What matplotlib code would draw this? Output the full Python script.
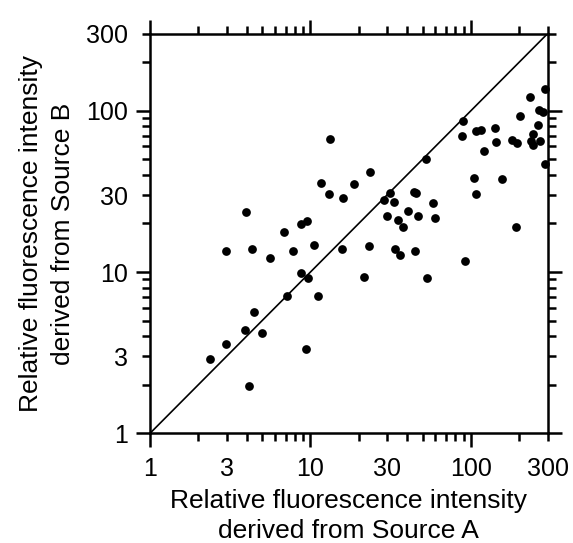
import matplotlib
matplotlib.use("Agg")
import matplotlib.pyplot as plt
from matplotlib.ticker import FixedLocator, FuncFormatter

plt.rcParams['font.family'] = ['Liberation Sans', 'DejaVu Sans']

# values (log-log scatter)
source_a = [2.35, 2.97, 3.90, 4.11, 4.43, 5.00, 7.12, 11.2, 9.40, 8.79,
            9.62, 2.97, 4.31, 5.57, 7.76, 10.5, 6.86, 8.75, 9.58, 3.99,
            15.8, 16.0, 13.0, 11.6, 13.3, 18.8, 23.4, 23.2, 21.7, 31.1,
            28.9, 33.0, 44.0, 45.4, 58.1, 40.8, 29.8, 46.6, 59.3, 35.3,
            37.8, 33.7, 35.9, 44.7, 53.3, 52.3, 92.0, 88.9, 87.6, 108,
            115, 142, 143, 121, 180, 193, 245, 238, 245, 268,
            261, 203, 232, 288, 267, 283, 288, 105, 157, 107, 190]
source_b = [2.89, 3.58, 4.37, 1.96, 5.62, 4.20, 7.10, 7.10, 3.35, 9.82,
            9.14, 13.4, 13.9, 12.2, 13.4, 14.8, 17.7, 19.8, 20.8, 23.4,
            13.9, 28.8, 30.6, 35.5, 66.8, 35.1, 41.9, 14.4, 9.35, 30.8,
            27.9, 27.2, 31.2, 31.0, 26.6, 24.0, 22.3, 22.4, 21.5, 20.9,
            19.1, 13.8, 12.8, 13.4, 9.14, 50.2, 11.7, 86.9, 69.7, 74.8,
            75.6, 77.8, 64.3, 56.0, 66.1, 63.1, 71.4, 65.2, 61.0, 64.9,
            81.9, 92.3, 122, 136, 101, 98.6, 46.6, 38.4, 37.7, 30.5, 19.0]

axis_range = [1, 300]
major_ticks = [1, 10, 100]
minor_ticks = [2, 3, 4, 5, 6, 7, 8, 9, 20, 30, 40, 50, 60, 70, 80, 90, 200, 300]
minor_labels = [3, 30, 300]

fig = plt.figure(figsize=(5.73, 5.43), dpi=100)
ax = fig.add_axes([0.2618, 0.2020, 0.6937, 0.7359])

ax.set_xscale('log')
ax.set_yscale('log')
ax.set_xlim(axis_range)
ax.set_ylim(axis_range)

# identity line
ax.plot(axis_range, axis_range, color='black', lw=1.2, zorder=2)
ax.plot(source_a, source_b, 'o', color='black', markersize=6.3,
        markeredgewidth=0, zorder=3, clip_on=False)


def minor_fmt(v, pos):
    for m in minor_labels:
        if abs(v - m) < 1e-6 * m:
            return str(m)
    return ''


for axis in (ax.xaxis, ax.yaxis):
    axis.set_major_locator(FixedLocator(major_ticks))
    axis.set_minor_locator(FixedLocator(minor_ticks))
    axis.set_major_formatter(FuncFormatter(lambda v, p: str(int(round(v)))))
    axis.set_minor_formatter(FuncFormatter(minor_fmt))

for side in ax.spines.values():
    side.set_linewidth(1.8)

ax.tick_params(which='both', direction='out', top=True, right=True,
               width=1.8, labelsize=18, colors='black')
ax.tick_params(which='major', length=10)
ax.tick_params(which='minor', length=5.5)
ax.tick_params(axis='x', which='major', pad=7)
ax.tick_params(axis='x', which='minor', pad=11.5)
ax.tick_params(axis='y', which='major', pad=6)
ax.tick_params(axis='y', which='minor', pad=10.5)

ax.set_xlabel('Relative fluorescence intensity\nderived from Source A',
              fontsize=19, labelpad=6, linespacing=1.3)
ax.set_ylabel('Relative fluorescence intensity\nderived from Source B',
              fontsize=19, labelpad=8, linespacing=1.4)

fig.savefig('out.png', dpi=100)
